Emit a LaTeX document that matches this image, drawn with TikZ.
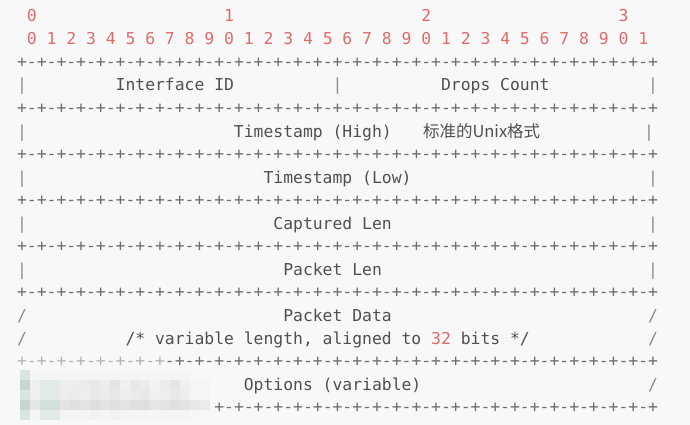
\documentclass[tikz,border=0pt]{standalone}
\usepackage{fontspec}
\setmonofont{DejaVu Sans Mono}
\newfontfamily\cjk{Noto Sans CJK SC}
\definecolor{pagebg}{HTML}{F8F8F8}
\definecolor{numred}{HTML}{E06B6B}
\definecolor{txtgray}{HTML}{505050}
\definecolor{rulegray}{HTML}{6E6E6E}
% tinted cells of the pixelated patch
\definecolor{ga}{HTML}{D9E6E0}
\definecolor{gb}{HTML}{C6D7CF}
\definecolor{gc}{HTML}{E2EBE6}
\definecolor{gd}{HTML}{D3E0DA}
\begin{document}
\begin{tikzpicture}[x=1pt,y=-1pt,
  every node/.style={inner sep=0pt,outer sep=0pt,anchor=base west},
  mono/.style={font=\ttfamily\fontsize{16.38}{20}\selectfont},
  num/.style={mono,text=numred},
  lbl/.style={mono,text=txtgray},
  rule/.style={mono,text=rulegray},
  edge/.style={mono,text=rulegray!80},
  cjktext/.style={font=\cjk\fontsize{16.5}{20}\selectfont,text=txtgray}]
\def\cw{9.86}
\def\cx{17.07}
\def\sep{+-+-+-+-+-+-+-+-+-+-+-+-+-+-+-+-+-+-+-+-+-+-+-+-+-+-+-+-+-+-+-+-+}
% canvas
\fill[pagebg] (0,0) rectangle (690,425);
\useasboundingbox (0,0) rectangle (690,425);
% bit ruler
\node[num] (t0) at ({\cx+\cw*1},22) {0};
\node[num] (t1) at ({\cx+\cw*21},22) {1};
\node[num] (t2) at ({\cx+\cw*41},22) {2};
\node[num] (t3) at ({\cx+\cw*61},22) {3};
\node[num] (units) at ({\cx+\cw*1},45) {0 1 2 3 4 5 6 7 8 9 0 1 2 3 4 5 6 7 8 9 0 1 2 3 4 5 6 7 8 9 0 1};
% horizontal separators
\foreach \y/\n in {67.5/s0,113.5/s1,159.5/s2,205.5/s3,251.5/s4,297.5/s5,366.5/s6,412.5/s7}
  \node[rule] (\n) at (\cx,\y) {\sep};
% row: Interface ID | Drops Count
\node[edge] (b1l) at ({\cx},91) {|};
\node[lbl] (ifid) at ({\cx+\cw*10},91) {Interface ID};
\node[edge] (b1m) at ({\cx+\cw*32},91) {|};
\node[lbl] (drops) at ({\cx+\cw*43},91) {Drops Count};
\node[edge] (b1r) at ({\cx+\cw*64},91) {|};
% row: Timestamp (High)
\node[edge] (b2l) at ({\cx},137) {|};
\node[lbl] (tshigh) at ({\cx+\cw*22},137) {Timestamp (High)};
\node[cjktext] (note) at (423,137) {标准的Unix格式};
\node[edge] (b2r) at (644,137) {|};
% row: Timestamp (Low)
\node[edge] (b3l) at ({\cx},183) {|};
\node[lbl] (tslow) at ({\cx+\cw*25},183) {Timestamp (Low)};
\node[edge] (b3r) at ({\cx+\cw*64},183) {|};
% row: Captured Len
\node[edge] (b4l) at ({\cx},229) {|};
\node[lbl] (caplen) at ({\cx+\cw*26},229) {Captured Len};
\node[edge] (b4r) at ({\cx+\cw*64},229) {|};
% row: Packet Len
\node[edge] (b5l) at ({\cx},275) {|};
\node[lbl] (pktlen) at ({\cx+\cw*27},275) {Packet Len};
\node[edge] (b5r) at ({\cx+\cw*64},275) {|};
% rows: Packet Data
\node[edge] (b6l) at ({\cx},321) {/};
\node[lbl] (pktdata) at ({\cx+\cw*27},321) {Packet Data};
\node[edge] (b6r) at ({\cx+\cw*64},321) {/};
\node[edge] (b7l) at ({\cx},344) {/};
\node[lbl] (pktnote) at ({\cx+\cw*11},344) {/* variable length, aligned to \textcolor{numred}{32} bits */};
\node[edge] (b7r) at ({\cx+\cw*64},344) {/};
% row: Options (variable)
\node[edge] (b8l) at ({\cx},390) {/};
\node[lbl] (opts) at ({\cx+\cw*23},390) {Options (variable)};
\node[edge] (b8r) at ({\cx+\cw*64},390) {/};
% pixelated patch over the lower left corner
\fill[pagebg,opacity=0.5] (14,354) rectangle (165,366);
\fill[pagebg] (14,366) rectangle (214,423);
\foreach \row [count=\r from 0] in {
  {ga,black!4,black!4,black!4,black!4,black!4,black!4,black!4,black!4,black!4,black!4,black!4,black!4,black!4,black!4,black!4,black!4,black!3,black!3},
  {gb,black!6,gc,gc,black!7,black!7,black!8,black!9,black!7,black!10,black!6,black!9,black!8,black!5,black!8,black!10,black!6,black!4,black!4},
  {ga,black!6,gc,gc,black!7,black!8,black!7,black!9,black!8,black!9,black!7,black!8,black!9,black!6,black!7,black!9,black!7,black!4,black!4},
  {gb,black!10,gd,gd,black!11,black!12,black!11,black!13,black!11,black!12,black!11,black!12,black!13,black!10,black!11,black!12,black!11,black!9,black!8},
  {ga,black!4,gc,gc,black!4,black!4,black!4,black!5,black!4,black!5,black!4,black!4,black!4,black!4,black!4,black!4,black!4,black!3,black!3}}
  \foreach \c [count=\k from 0] in \row
    \fill[fill=\c] ({20+10*\k},{370+10*\r}) rectangle ++(10,10);
\end{tikzpicture}
\end{document}
